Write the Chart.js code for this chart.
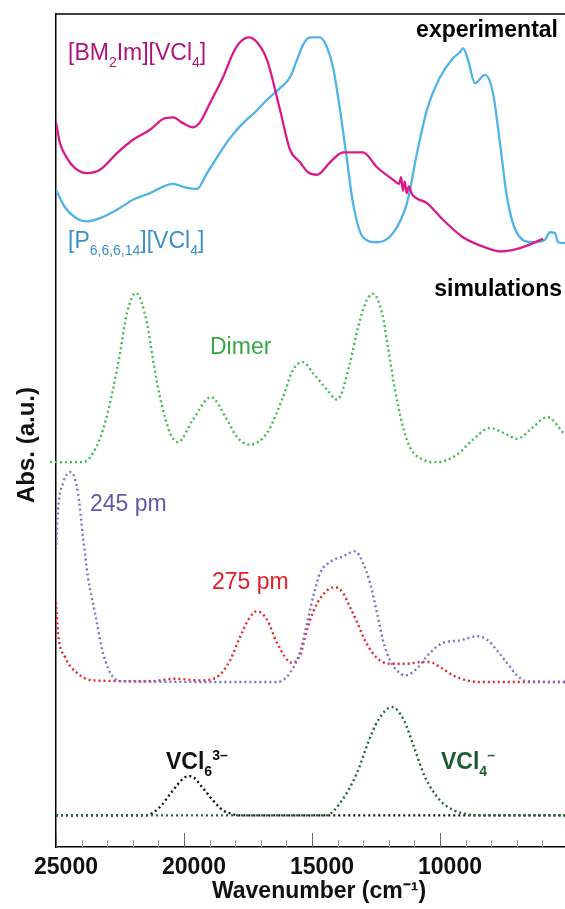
<!DOCTYPE html>
<html>
<head>
<meta charset="utf-8">
<script src="https://cdn.jsdelivr.net/npm/chart.js@4.4.0/dist/chart.umd.min.js"></script>
<style>
  html, body { margin: 0; padding: 0; background: #fff; }
  #wrap { position: relative; width: 565px; height: 909px; }
</style>
</head>
<body>
<div id="wrap"><canvas id="spectra"></canvas></div>
<script>
// wavenumber (cm-1) / absorbance (a.u., stacked offsets included)
const bmimWn = [25000, 24844, 24570, 24258, 23789, 23282, 22617, 21992, 21328, 20820, 20430, 20039, 19649, 19375, 18985, 18477, 18086, 17813, 17461, 17149, 16758, 16250, 15860, 15469, 15157, 14805, 14297, 13789, 13008, 12461, 11836,
  11600, 11520, 11450, 11380, 11300, 11220, 11100, 10508, 9883, 9102, 8165, 7656, 6875, 5977];
const bmimAbs = [87.0, 84.5, 82.7, 81.5, 80.9, 81.3, 83.3, 84.9, 86.1, 87.4, 87.6, 86.9, 86.4, 87.0, 89.3, 92.4, 95.3, 96.6, 97.2, 96.6, 94.5, 88.5, 83.7, 82.2, 81.0, 80.7, 82.2, 83.4, 83.4, 81.6, 80.1,
  79.6, 80.4, 78.8, 79.9, 78.5, 79.3, 78.4, 77.3, 75.3, 73.2, 71.9, 71.5, 71.9, 73.0];

const phosWn = [25000, 24648, 24258, 23789, 23281, 22617, 21992, 21328, 20430, 19961, 19493, 19102, 18711, 18204, 17696, 17227, 16758, 16251, 15860, 15587, 15352, 15079, 14688, 14415, 14180, 13907, 13634, 13399, 13009, 12462, 11837, 11290, 10899, 10509, 10000, 9493, 9220, 9103, 8907, 8634, 8243, 7931, 7657, 7384, 6993, 6368, 5900, 5704, 5509, 5392, 5118];
const phosAbs = [78.9, 76.8, 75.6, 75.1, 75.5, 76.5, 77.7, 78.5, 79.6, 79.2, 79.0, 80.9, 82.8, 85.1, 86.9, 88.2, 89.7, 91.1, 92.4, 94.5, 96.3, 97.2, 97.2, 96.0, 93.6, 88.5, 82.5, 77.3, 73.2, 72.6, 73.7, 77.3, 83.3, 88.5, 92.4, 94.7, 95.4, 95.9, 94.5, 91.7, 92.7, 90.5, 84.5, 78.0, 73.7, 72.6, 72.9, 73.8, 73.7, 72.6, 72.5];

const dimerWn = [25234, 23945, 23555, 23164, 22774, 22500, 22227, 21875, 21446, 21211, 20938, 20547, 20235, 19649, 18946, 18321, 17930, 17422, 16758, 16133, 15743, 15352, 14962, 14415, 14024, 13516, 13204, 12852, 12618, 12266, 12032, 11759, 11485, 11173, 10665, 10118, 9337, 8712, 8048, 7384, 6993, 6368, 5822, 5118];
const dimerAbs = [46.2, 46.2, 47.3, 50.1, 54.9, 59.3, 64.1, 66.5, 62.9, 58.5, 54.0, 49.7, 48.6, 51.3, 54.0, 51.3, 49.2, 48.3, 49.7, 54.0, 57.3, 58.2, 56.9, 54.9, 53.7, 58.1, 62.4, 65.7, 66.4, 64.1, 60.0, 54.9, 50.9, 48.0, 46.5, 46.2, 47.1, 48.9, 50.3, 49.5, 49.0, 50.4, 51.6, 49.5];

const pm245Wn = [25000, 24922, 24727, 24414, 24141, 23945, 23750, 23477, 23164, 22774, 22383, 16368, 15860, 15469, 15196, 14883, 14688, 14298, 13790, 13321, 13009, 12735, 12462, 12227, 11954, 11681, 11368, 10977, 10392, 9884, 9220, 8556, 8126, 7775, 7384, 6993, 6603, 5118];
const pm245Abs = [35.7, 40.5, 43.7, 45.0, 42.5, 37.2, 32.4, 28.1, 23.3, 20.4, 19.9, 19.8, 20.9, 23.4, 26.9, 30.9, 32.9, 34.2, 34.9, 35.5, 34.1, 31.7, 28.1, 24.8, 22.4, 21.2, 20.6, 21.2, 23.3, 24.5, 24.8, 25.3, 24.8, 23.6, 22.1, 20.6, 19.9, 19.8];

const pm275Wn = [25000, 24922, 24648, 24180, 23555, 21328, 20352, 19375, 18711, 18204, 17813, 17422, 17149, 16758, 16368, 15782, 15469, 15196, 14962, 14571, 14102, 13790, 13516, 13243, 12930, 12657, 12345, 11954, 11290, 10782, 10392, 10000, 9493, 8946, 8439, 5118];
const pm275Abs = [29.4, 25.7, 22.8, 20.9, 20.0, 19.9, 20.2, 20.0, 20.4, 22.4, 25.2, 27.6, 28.3, 27.3, 24.5, 22.1, 23.0, 26.1, 28.2, 30.3, 31.2, 30.5, 28.8, 27.0, 24.8, 23.4, 22.4, 22.0, 22.0, 22.2, 22.2, 21.6, 20.6, 20.0, 19.8, 19.8];

const vcl6Wn = [25000, 21485, 20977, 20430, 20000, 19727, 19297, 18868, 18477, 18164, 17813, 5118];
const vcl6Abs = [3.8, 3.8, 4.7, 6.8, 8.3, 8.5, 7.2, 5.6, 4.4, 4.0, 3.8, 3.8];

const vcl4Wn = [25000, 14454, 13829, 13243, 12813, 12422, 11876, 11407, 11016, 10586, 10000, 9453, 9024, 8633, 5118];
const vcl4Abs = [3.8, 3.8, 5.6, 8.9, 12.5, 15.2, 16.8, 15.2, 12.0, 8.4, 5.6, 4.4, 4.0, 3.8, 3.8];

const xMin = 5118, xMax = 25000;
const labelledTicks = [25000, 20000, 15000, 10000];

const FONT = '"Liberation Sans", Arial, Helvetica, sans-serif';

const pts = (wn, ab) => wn.map((w, i) => ({ x: w, y: ab[i] }));

function line(label, wn, ab, color, dotted, extra) {
    return Object.assign({
        label,
        data: pts(wn, ab),
        borderColor: color,
        borderWidth: dotted ? 2.4 : 2.3,
        borderDash: dotted ? [2, 3] : [],
        pointRadius: 0,
        fill: false,
        cubicInterpolationMode: 'monotone'
    }, extra || {});
}

// draws text runs with sub/superscripts
function richText(ctx, parts, x, y, size, weight, color) {
    ctx.fillStyle = color;
    ctx.textAlign = 'left';
    ctx.textBaseline = 'alphabetic';
    let cx = x;
    parts.forEach(([t, kind]) => {
        const s = kind ? Math.round(size * 0.62) : size;
        ctx.font = `${weight} ${s}px ${FONT}`;
        const dy = kind === 'sub' ? size * 0.3 : kind === 'sup' ? -size * 0.4 : 0;
        ctx.fillText(t, cx, y + dy);
        cx += ctx.measureText(t).width;
    });
}

const decorations = {
    id: 'decorations',
    afterDraw(chart) {
        const { ctx, chartArea: area, scales: { x } } = chart;
        ctx.save();

        // top frame line
        ctx.strokeStyle = '#000';
        ctx.lineWidth = 1.5;
        ctx.beginPath();
        ctx.moveTo(area.left, area.top);
        ctx.lineTo(area.right, area.top);
        ctx.stroke();

        // inward ticks, major every 5000
        ctx.lineWidth = 1;
        for (let v = xMax; v >= xMin; v -= 1000) {
            const px = Math.round(x.getPixelForValue(v)) + 0.5;
            const major = v % 5000 === 0;
            ctx.strokeStyle = major ? '#666' : '#999';
            ctx.beginPath();
            ctx.moveTo(px, area.bottom);
            ctx.lineTo(px, area.bottom - (major ? 14 : 7));
            ctx.stroke();
        }

        // axis titles
        ctx.fillStyle = '#111';
        ctx.textAlign = 'center';
        ctx.textBaseline = 'middle';
        ctx.font = `bold 23px ${FONT}`;
        ctx.fillText('Wavenumber (cm⁻¹)', 319, 892);
        ctx.save();
        ctx.translate(27, 445);
        ctx.rotate(-Math.PI / 2);
        ctx.font = `bold 24px ${FONT}`;
        ctx.fillText('Abs. (a.u.)', 0, 0);
        ctx.restore();

        // panel headers
        ctx.font = `bold 23px ${FONT}`;
        ctx.fillStyle = '#000';
        ctx.textAlign = 'right';
        ctx.textBaseline = 'alphabetic';
        ctx.fillText('experimental', 558, 37);
        ctx.fillText('simulations', 562, 296);

        // series labels
        richText(ctx, [['[BM'], ['2', 'sub'], ['Im][VCl'], ['4', 'sub'], [']']], 68, 60, 23, 'normal', '#b0147a');
        richText(ctx, [['[P'], ['6,6,6,14', 'sub'], ['][VCl'], ['4', 'sub'], [']']], 68, 248, 23, 'normal', '#3a8fc8');
        richText(ctx, [['Dimer']], 210, 354, 23, 'normal', '#35a845');
        richText(ctx, [['245 pm']], 90, 511, 23, 'normal', '#5c5ca8');
        richText(ctx, [['275 pm']], 212, 589, 23, 'normal', '#e11d25');
        richText(ctx, [['VCl'], ['6', 'sub'], ['3–', 'sup']], 166, 769, 23, 'bold', '#111');
        richText(ctx, [['VCl'], ['4', 'sub'], ['–', 'sup']], 441, 769, 23, 'bold', '#1d5c2c');

        ctx.restore();
    }
};

new Chart(document.getElementById('spectra'), {
    type: 'line',
    data: {
        datasets: [
            line('[BM2Im][VCl4]', bmimWn, bmimAbs, '#d81b8c', false),
            line('[P6,6,6,14][VCl4]', phosWn, phosAbs, '#4fb3e6', false),
            line('Dimer', dimerWn, dimerAbs, '#3fbb50', true, { clip: false }),
            line('245 pm', pm245Wn, pm245Abs, '#7a74c6', true),
            line('275 pm', pm275Wn, pm275Abs, '#e8232b', true),
            line('VCl4-', vcl4Wn, vcl4Abs, '#1e6a32', true),
            line('VCl6 3-', vcl6Wn, vcl6Abs, '#111111', true)
        ]
    },
    options: {
        responsive: true,
        maintainAspectRatio: false,
        animation: false,
        layout: { padding: { top: 14, left: 56, right: 0, bottom: 3 } },
        plugins: {
            legend: { display: false },
            tooltip: { enabled: false }
        },
        scales: {
            x: {
                type: 'linear',
                reverse: true,
                min: xMin,
                max: xMax,
                border: { display: true, color: '#000', width: 1.5 },
                grid: { display: false, drawTicks: false },
                afterBuildTicks: scale => {
                    scale.ticks = labelledTicks.map(v => ({ value: v }));
                },
                ticks: {
                    autoSkip: false,
                    maxRotation: 0,
                    padding: 7,
                    labelOffset: 10,
                    color: '#111',
                    font: { family: FONT, size: 23, weight: 'bold' },
                    callback: v => String(v)
                },
                afterFit: scale => {
                    scale.height = 59;
                    scale.paddingLeft = 0;
                    scale.paddingRight = 0;
                }
            },
            y: {
                min: 0,
                max: 100,
                border: { display: true, color: '#000', width: 1.5 },
                grid: { display: false, drawTicks: false },
                ticks: { display: false }
            }
        }
    },
    plugins: [decorations]
});
</script>
</body>
</html>
